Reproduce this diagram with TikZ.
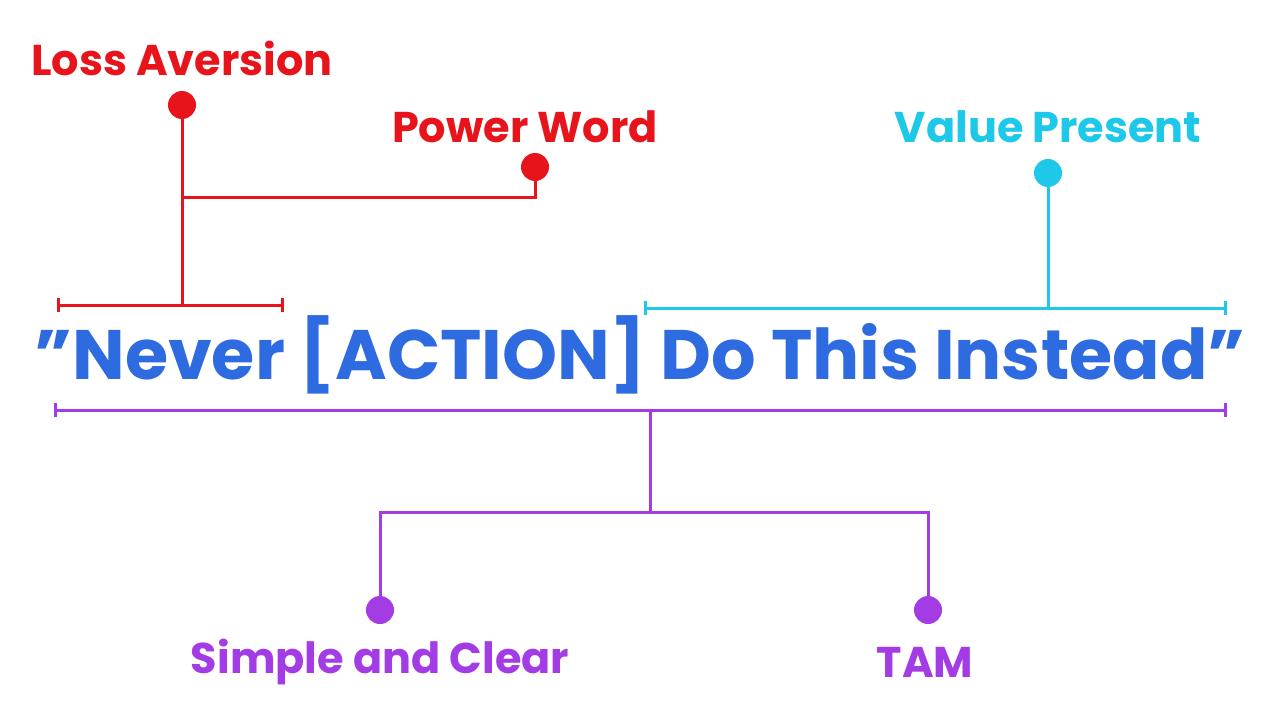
\documentclass[tikz,border=0pt]{standalone}
\usepackage{fontspec}
\setmainfont{Poppins}
\begin{document}
\definecolor{cred}{HTML}{E8141C}
\definecolor{ccyan}{HTML}{1EC8E8}
\definecolor{cblue}{HTML}{2F6BE0}
\definecolor{cpur}{HTML}{A43CE6}
\begin{tikzpicture}[x=1pt,y=-1pt,
  lab/.style={font=\fontsize{43}{48}\selectfont\bfseries,inner sep=0pt},
  ln/.style={line width=3pt},
  dot/.style={circle,fill,inner sep=0pt,minimum size=28pt}]
\useasboundingbox[fill=white] (0,0) rectangle (1280,720);
\node[lab,text=cred] (la) at (182,58) {Loss Aversion};
\node[lab,text=cred] (pw) at (525,127) {Power Word};
\node[lab,text=ccyan] (vp) at (1048,127) {Value Present};
\node[font=\fontsize{70}{80}\selectfont\bfseries,text=cblue,inner sep=0pt] (main) at (640,355) {\symbol{34}Never [ACTION] Do This Instead\symbol{34}};
\node[lab,text=cpur] (sc) at (380,662) {Simple and Clear};
\node[lab,text=cpur] (tam) at (925,662) {TAM};
% red
\node[dot,fill=cred] (d1) at (182,105) {};
\node[dot,fill=cred] (d2) at (535,167) {};
\coordinate (r1) at (182,305);
\coordinate (j1) at (182,197);
\coordinate (j2) at (535,197);
\draw[ln,cred] (d1) -- (r1);
\draw[ln,cred] (j1) -- (j2) -- (d2);
\coordinate (rb1) at (58,305); \coordinate (rb2) at (282,305);
\draw[ln,cred] (rb1) -- (rb2);
\draw[ln,cred] ([yshift=-7]rb1) -- ([yshift=7]rb1);
\draw[ln,cred] ([yshift=-7]rb2) -- ([yshift=7]rb2);
% cyan
\node[dot,fill=ccyan] (d3) at (1048,173) {};
\coordinate (c1) at (1048,308);
\draw[ln,ccyan] (d3) -- (c1);
\coordinate (cb1) at (645,308); \coordinate (cb2) at (1225,308);
\draw[ln,ccyan] (cb1) -- (cb2);
\draw[ln,ccyan] ([yshift=-7]cb1) -- ([yshift=7]cb1);
\draw[ln,ccyan] ([yshift=-7]cb2) -- ([yshift=7]cb2);
% purple
\coordinate (pb1) at (55,410); \coordinate (pb2) at (1225,410);
\draw[ln,cpur] (pb1) -- (pb2);
\draw[ln,cpur] ([yshift=-7]pb1) -- ([yshift=7]pb1);
\draw[ln,cpur] ([yshift=-7]pb2) -- ([yshift=7]pb2);
\coordinate (p0) at (650,410);
\coordinate (p1) at (650,512);
\coordinate (pl) at (380,512);
\coordinate (pr) at (928,512);
\node[dot,fill=cpur] (d4) at (380,610) {};
\node[dot,fill=cpur] (d5) at (928,610) {};
\draw[ln,cpur] (p0) -- (p1);
\draw[ln,cpur] (d4) -- (pl) -- (pr) -- (d5);
\end{tikzpicture}
\end{document}
